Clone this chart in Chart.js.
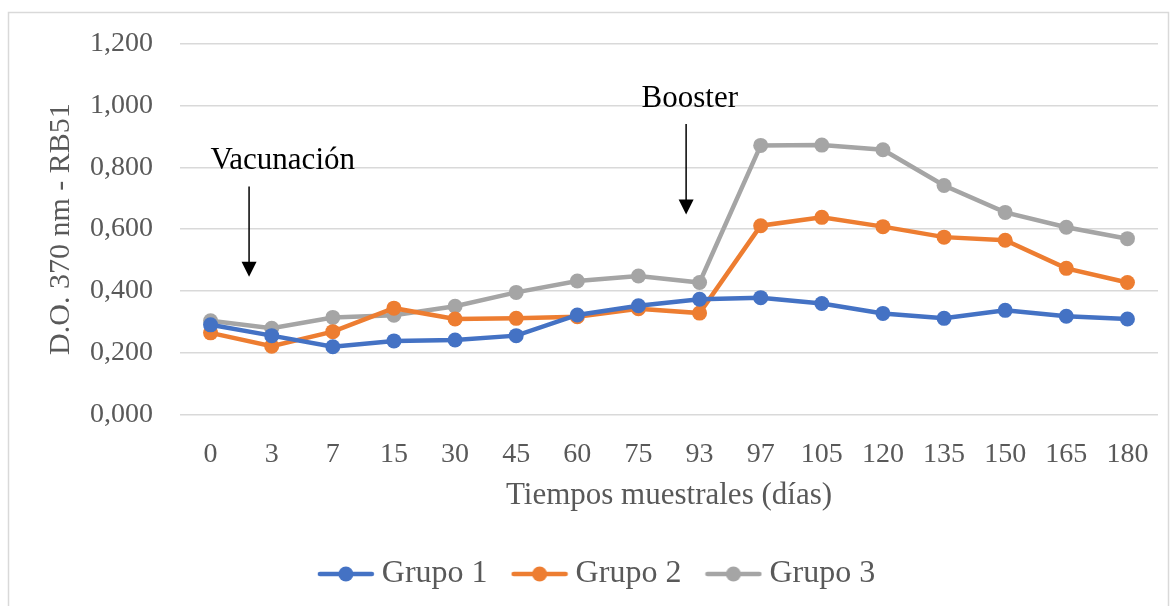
<!DOCTYPE html>
<html><head><meta charset="utf-8">
<script src="https://cdn.jsdelivr.net/npm/chart.js@4/dist/chart.umd.min.js"></script>
<style>html,body{margin:0;padding:0;background:#fff}#wrap{width:1176px;height:606px;position:relative}</style>
</head><body><div id="wrap"><canvas id="c" width="1176" height="606"></canvas></div>
<script>
const categories = ['0','3','7','15','30','45','60','75','93','97','105','120','135','150','165','180'];
const grupo1 = [0.290,0.255,0.219,0.238,0.241,0.255,0.322,0.352,0.373,0.378,0.359,0.327,0.311,0.337,0.318,0.309];
const grupo2 = [0.264,0.221,0.268,0.344,0.309,0.311,0.316,0.342,0.328,0.611,0.638,0.608,0.574,0.564,0.473,0.427];
const grupo3 = [0.303,0.279,0.314,0.321,0.350,0.395,0.432,0.448,0.427,0.871,0.872,0.857,0.741,0.654,0.606,0.569];
const seriesNames = ['Grupo 1','Grupo 2','Grupo 3'];
const colors = ['#4472C4','#ED7D31','#A5A5A5'];
const yTicks = [0,0.2,0.4,0.6,0.8,1.0,1.2];
const annotations = [
  {text:'Vacunación', xi:0.63, textX:1.18, textY:0.82, top:0.738, bottom:0.446},
  {text:'Booster', xi:7.78, textX:7.84, textY:1.021, top:0.94, bottom:0.647}
];
const FONT = '"Liberation Serif", "Times New Roman", serif';

function legendIcon(color){
  const cv = document.createElement('canvas');
  cv.width = 58; cv.height = 18;
  const g = cv.getContext('2d');
  g.strokeStyle = color; g.lineWidth = 4.5; g.lineCap='round';
  g.beginPath(); g.moveTo(3,9); g.lineTo(55,9); g.stroke();
  g.fillStyle = color; g.beginPath(); g.arc(29,9,7.5,0,Math.PI*2); g.fill();
  return cv;
}
const icons = colors.map(legendIcon);

const borderPlugin = {
  id:'border',
  beforeDraw(chart){
    const ctx = chart.ctx; ctx.save();
    ctx.fillStyle='#fff'; ctx.fillRect(0,0,chart.width,chart.height);
    ctx.strokeStyle='#D9D9D9'; ctx.lineWidth=1.5;
    ctx.strokeRect(8.5,12.5,1160,600);
    ctx.restore();
  }
};
const annoPlugin = {
  id:'anno',
  afterDatasetsDraw(chart){
    const ctx = chart.ctx, xs = chart.scales.x, ys = chart.scales.y;
    const p0 = xs.getPixelForValue(0), p1 = xs.getPixelForValue(1), step = p1-p0;
    ctx.save();
    annotations.forEach(a=>{
      const x = p0 + a.xi*step;
      const yt = ys.getPixelForValue(a.top), yb = ys.getPixelForValue(a.bottom);
      ctx.strokeStyle='#000'; ctx.lineWidth=1.5;
      ctx.beginPath(); ctx.moveTo(x,yt); ctx.lineTo(x,yb-14); ctx.stroke();
      ctx.fillStyle='#000'; ctx.beginPath();
      ctx.moveTo(x-7.5,yb-15); ctx.lineTo(x+7.5,yb-15); ctx.lineTo(x,yb); ctx.closePath(); ctx.fill();
      ctx.font = '31px '+FONT; ctx.textAlign='center'; ctx.textBaseline='middle';
      ctx.fillText(a.text, p0 + a.textX*step, ys.getPixelForValue(a.textY));
    });
    ctx.restore();
  }
};

const datasets = [grupo1,grupo2,grupo3].map((d,i)=>({
  label: seriesNames[i], data: d, borderColor: colors[i], backgroundColor: colors[i],
  borderWidth: 4.5, pointRadius: 7.5, pointHoverRadius: 7.5, pointBackgroundColor: colors[i],
  pointBorderWidth: 0, tension: 0
}));

new Chart(document.getElementById('c'), {
  type:'line',
  data:{labels:categories, datasets},
  plugins:[borderPlugin, annoPlugin],
  options:{
    responsive:false, animation:false, devicePixelRatio:1,
    layout:{padding:{left:43,right:18,top:38,bottom:6}},
    plugins:{
      tooltip:{enabled:false},
      legend:{position:'bottom',
        labels:{usePointStyle:true, pointStyleWidth:40, color:'#595959', padding:32,
          font:{family:FONT,size:32},
          generateLabels(chart){
            return chart.data.datasets.map((ds,i)=>({text:ds.label, pointStyle:icons[i], fillStyle:colors[i], strokeStyle:colors[i], lineWidth:0, datasetIndex:i, fontColor:'#595959'}));
          }}
      }
    },
    scales:{
      x:{offset:true, grid:{display:false, drawTicks:false}, border:{display:false},
        afterFit(axis){ axis.height = 111.6; },
        ticks:{color:'#595959', font:{family:FONT,size:28}, padding:23, maxRotation:0, autoSkip:false},
        title:{display:true, text:'Tiempos muestrales (días)', color:'#595959', font:{family:FONT,size:31}, padding:{top:0,bottom:12}}
      },
      y:{min:0,max:1.2,
        afterFit(axis){ axis.width = 137; },
        afterBuildTicks(axis){ axis.ticks = yTicks.map(v=>({value:v})); },
        grid:{color:'#D9D9D9', lineWidth:1.5, drawTicks:false}, border:{display:false},
        ticks:{color:'#595959', font:{family:FONT,size:28}, padding:27,
          callback:v=>Number(v).toFixed(3).replace('.',',')},
        title:{display:true, text:'D.O. 370 nm - RB51', color:'#595959', font:{family:FONT,size:30}, padding:{top:0,bottom:5}}
      }
    }
  }
});
</script></body></html>
